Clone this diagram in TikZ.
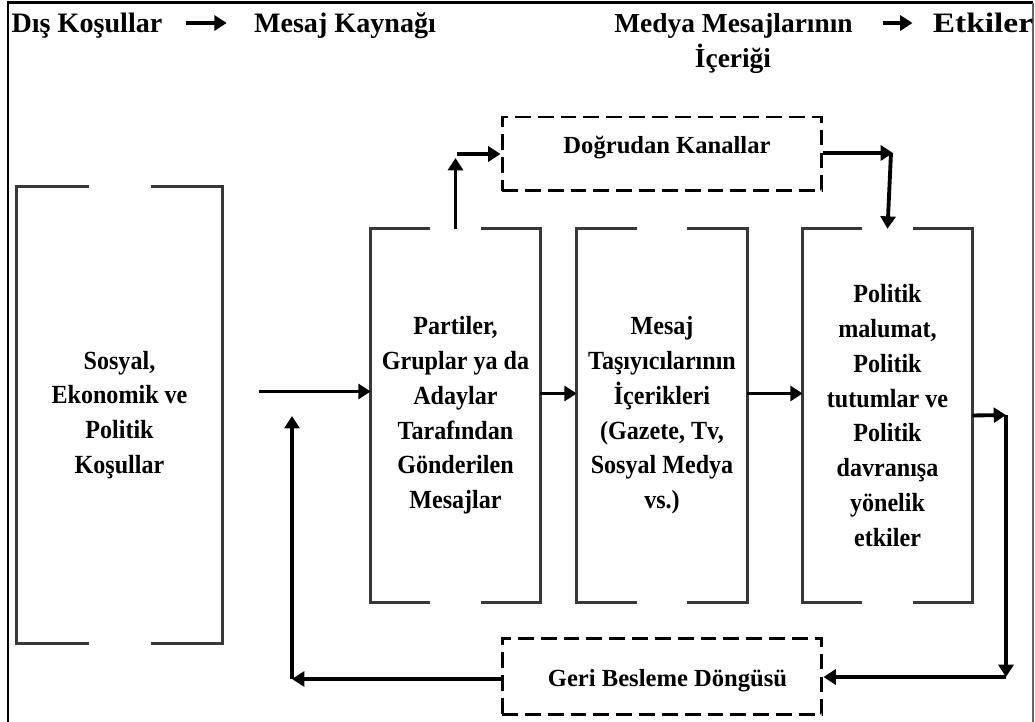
\documentclass[tikz,border=0pt]{standalone}
\usepackage{fontspec}
\usepackage{graphicx}
\setmainfont{Liberation Serif}
\newfontfamily\boxfont[FakeStretch=0.92]{Liberation Serif}
\usetikzlibrary{arrows.meta,calc}
\begin{document}
\begin{tikzpicture}[x=0.02cm,y=-0.02cm,
  arr/.style={line width=2.2pt,-{Triangle[length=7pt,width=8.5pt]}},
  brk/.style={line width=1.5pt,draw=black!78},
  dbox/.style={draw,line width=1.7pt,dash pattern=on 9pt off 4pt,minimum width=6.4cm,minimum height=1.48cm,inner sep=0pt},
  dtxt/.style={inner sep=0pt,anchor=base,font=\bfseries\fontsize{14}{17}\selectfont},
  box/.style={inner sep=0pt,align=center,font=\boxfont\bfseries\fontsize{14.9}{19.8}\selectfont},
  hdr/.style={inner sep=0pt,anchor=base,font=\bfseries\fontsize{16}{20}\selectfont}]
\useasboundingbox (0,0) rectangle (1035,722);
% outer frame
\draw[line width=1.7pt] (8,722) -- (8,3) -- (1033,3);
\draw[line width=0.6pt,black!60] (1033,3) -- (1033,722);
% header
\node[hdr] (h1) at (87,33) {Dış Koşullar};
\node[hdr] (h2) at (345,33) {Mesaj Kaynağı};
\node[hdr,font=\bfseries\fontsize{15.6}{20}\selectfont] (h3) at (733.5,33) {Medya Mesajlarının};
\node[hdr,font=\bfseries\fontsize{15.6}{20}\selectfont] (h3b) at (733,68) {İçeriği};
\node[hdr] (h4) at (983,33) {\scalebox{1.19}[1]{Etkiler}};
\draw[arr] ($(h1.base east)+(23,-10)$) -- ($(h2.base west)+(-27,-10)$);
\draw[arr] ($(h3.base east)+(30,-10)$) -- ($(h4.base west)+(-20,-10)$);
% boxes
\node[box,minimum width=4.1cm,minimum height=9.12cm] (b1) at (119.5,415) {Sosyal,\\Ekonomik ve\\Politik\\Koşullar};
\node[box,minimum width=3.38cm,minimum height=7.46cm] (b2) at (455.5,415.5) {Partiler,\\Gruplar ya da\\Adaylar\\Tarafından\\Gönderilen\\Mesajlar};
\node[box,minimum width=3.4cm,minimum height=7.46cm] (b3) at (662,415.5) {Mesaj\\Taşıyıcılarının\\İçerikleri\\(Gazete, Tv,\\Sosyal Medya\\vs.)};
\node[box,minimum width=3.38cm,minimum height=7.46cm] (b4) at (887.5,415.5) {Politik\\malumat,\\Politik\\tutumlar ve\\Politik\\davranışa\\yönelik\\etkiler};
\foreach \b/\g in {b1/31,b2/25.5,b3/25,b4/25.5} {
  \draw[brk] ($(\b.north)+(-\g,0)$) -| (\b.south west) -- ($(\b.south)+(-\g,0)$);
  \draw[brk] ($(\b.north)+(\g,0)$) -| (\b.south east) -- ($(\b.south)+(\g,0)$);
}
% dashed boxes
\node[dbox] (dk) at (662,154) {};
\node[dtxt] (dkt) at (667,153.3) {Doğrudan Kanallar};
\node[dbox,minimum height=1.54cm] (gb) at (662,676.5) {};
\node[dtxt] (gbt) at (667.5,686.7) {Geri Besleme Döngüsü};
% connectors
\coordinate (s1) at (259,391.5);
\draw[arr] (s1) -- (s1 -| b2.west);
\draw[arr] ($(b2.east)+(0,-22)$) -- ($(b3.west)+(0,-22)$);
\draw[arr] ($(b3.east)+(0,-22)$) -- ($(b4.west)+(0,-22)$);
\coordinate (r1) at (1006,415);
\coordinate (r2) at (1006,677);
\draw[arr] (b4.east) -- (r1);
\draw[arr] (r1) -- (r2);
\draw[arr] (r2) -- (r2 -| gb.east);
\coordinate (l1) at (292,679);
\coordinate (l2) at (292,416);
\draw[arr] (gb.west |- l1) -- (l1);
\draw[arr] (l1) -- (l2);
\coordinate (u1) at (456,158);
\draw[arr] (b2.north) -- (b2.north |- u1);
\coordinate (u2) at (457,154);
\draw[arr] (u2) -- (u2 -| dk.west);
\coordinate (d1) at (893,153);
\coordinate (d2) at (891,153);
\draw[arr] (dk.east |- d1) -- (d1);
\draw[arr] (d2) -- (b4.north);
\end{tikzpicture}
\end{document}
